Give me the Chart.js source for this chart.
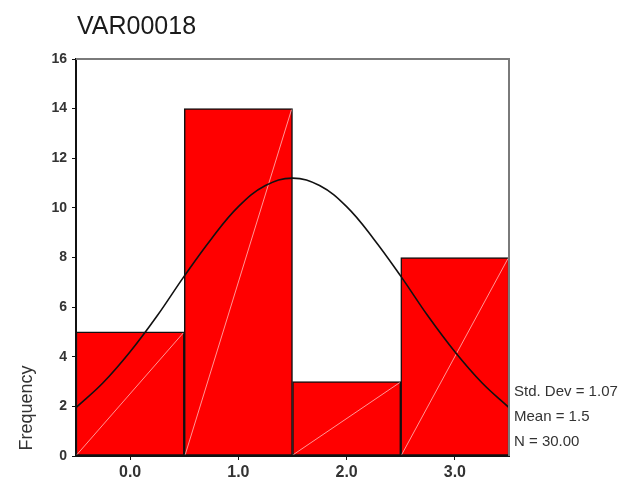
<!DOCTYPE html>
<html>
<head>
<meta charset="utf-8">
<script src="https://cdn.jsdelivr.net/npm/chart.js@4"></script>
<style>
  html, body { margin: 0; padding: 0; background: #fff; }
  #wrap { width: 638px; height: 481px; }
</style>
</head>
<body>
<div id="wrap"><canvas id="histChart" width="638" height="481"></canvas></div>
<script>
// Histogram bins (centres) and their frequencies
const binCenters = [0, 1, 2, 3];
const frequencies = [5, 14, 3, 8];

// Normal curve at 0.25 steps from -0.5 to 3.5
const curveX = [-0.5, -0.25, 0, 0.25, 0.5, 0.75, 1, 1.25, 1.5, 1.75, 2, 2.25, 2.5, 2.75, 3, 3.25, 3.5];
const curveY = [1.95, 2.95, 4.2, 5.65, 7.25, 8.75, 10.05, 10.9, 11.2, 10.9, 10.05, 8.75, 7.25, 5.65, 4.2, 2.95, 1.95];

const yTicks = [0, 2, 4, 6, 8, 10, 12, 14, 16];
const xTicks = [0, 1, 2, 3];

const chartTitle = 'VAR00018';
const yTitle = 'Frequency';
const statsLines = ['Std. Dev = 1.07', 'Mean = 1.5', 'N = 30.00'];

const FONT = '"Liberation Sans", Arial, sans-serif';

// Extra drawing: title, rotated axis label, stats, frame and bar diagonals
const decorPlugin = {
    id: 'decor',
    afterDatasetDraw(chart, args) {
        if (args.index !== 1) return;
        const ctx = chart.ctx;
        ctx.save();
        ctx.strokeStyle = 'rgba(255, 200, 200, 0.75)';
        ctx.lineWidth = 1;
        args.meta.data.forEach(bar => {
            const left = bar.x - bar.width / 2;
            const right = bar.x + bar.width / 2;
            ctx.beginPath();
            ctx.moveTo(left + 1, bar.base - 1);
            ctx.lineTo(right - 1, bar.y + 1);
            ctx.stroke();
        });
        ctx.restore();
    },
    afterDraw(chart) {
        const ctx = chart.ctx;
        const area = chart.chartArea;
        ctx.save();

        // top and right frame
        ctx.strokeStyle = '#7a7a7a';
        ctx.lineWidth = 2;
        ctx.beginPath();
        ctx.moveTo(area.left, area.top);
        ctx.lineTo(area.right, area.top);
        ctx.lineTo(area.right, area.bottom);
        ctx.stroke();

        // title
        ctx.fillStyle = '#1a1a1a';
        ctx.font = '25px ' + FONT;
        ctx.textBaseline = 'alphabetic';
        ctx.textAlign = 'left';
        ctx.fillText(chartTitle, area.left + 1, 34);

        // y axis label, near the bottom
        ctx.save();
        ctx.translate(32, area.bottom - 48);
        ctx.rotate(-Math.PI / 2);
        ctx.font = '18px ' + FONT;
        ctx.fillStyle = '#333';
        ctx.textAlign = 'center';
        ctx.textBaseline = 'alphabetic';
        ctx.fillText(yTitle, 0, 0);
        ctx.restore();

        // stats block
        ctx.font = '15px ' + FONT;
        ctx.fillStyle = '#333';
        ctx.textAlign = 'left';
        ctx.textBaseline = 'middle';
        statsLines.forEach((s, i) => {
            ctx.fillText(s, area.right + 5, area.bottom - 64 + i * 25);
        });
        ctx.restore();
    }
};

new Chart(document.getElementById('histChart'), {
    data: {
        datasets: [
            {
                type: 'line',
                data: curveX.map((x, i) => ({ x: x, y: curveY[i] })),
                borderColor: '#111',
                borderWidth: 1.6,
                pointRadius: 0,
                tension: 0.4,
                fill: false,
                order: 0
            },
            {
                type: 'bar',
                data: binCenters.map((x, i) => ({ x: x, y: frequencies[i] })),
                backgroundColor: '#ff0000',
                borderColor: '#111',
                borderWidth: 1.5,
                borderSkipped: false,
                barPercentage: 1,
                categoryPercentage: 1,
                order: 1
            }
        ]
    },
    plugins: [decorPlugin],
    options: {
        responsive: false,
        animation: false,
        layout: {
            padding: { top: 59, right: 129, bottom: 0, left: 0 }
        },
        plugins: {
            legend: { display: false },
            tooltip: { enabled: false }
        },
        scales: {
            x: {
                type: 'linear',
                min: -0.5,
                max: 3.5,
                offset: false,
                afterBuildTicks: scale => { scale.ticks = xTicks.map(v => ({ value: v })); },
                afterFit: scale => { scale.height = 25; },
                ticks: {
                    color: '#333',
                    padding: 3,
                    font: { family: FONT, size: 16, weight: 'bold' },
                    callback: v => Number(v).toFixed(1)
                },
                grid: {
                    offset: false,
                    drawOnChartArea: false,
                    drawTicks: true,
                    tickLength: 4,
                    color: '#111'
                },
                border: { color: '#111', width: 2 }
            },
            y: {
                min: 0,
                max: 16,
                afterBuildTicks: scale => { scale.ticks = yTicks.map(v => ({ value: v })); },
                afterFit: scale => { scale.width = 76; },
                ticks: {
                    color: '#333',
                    padding: 5,
                    font: { family: FONT, size: 14, weight: 'bold' }
                },
                grid: {
                    drawOnChartArea: false,
                    drawTicks: true,
                    tickLength: 4,
                    color: '#111'
                },
                border: { color: '#111', width: 2 }
            }
        }
    }
});
</script>
</body>
</html>
